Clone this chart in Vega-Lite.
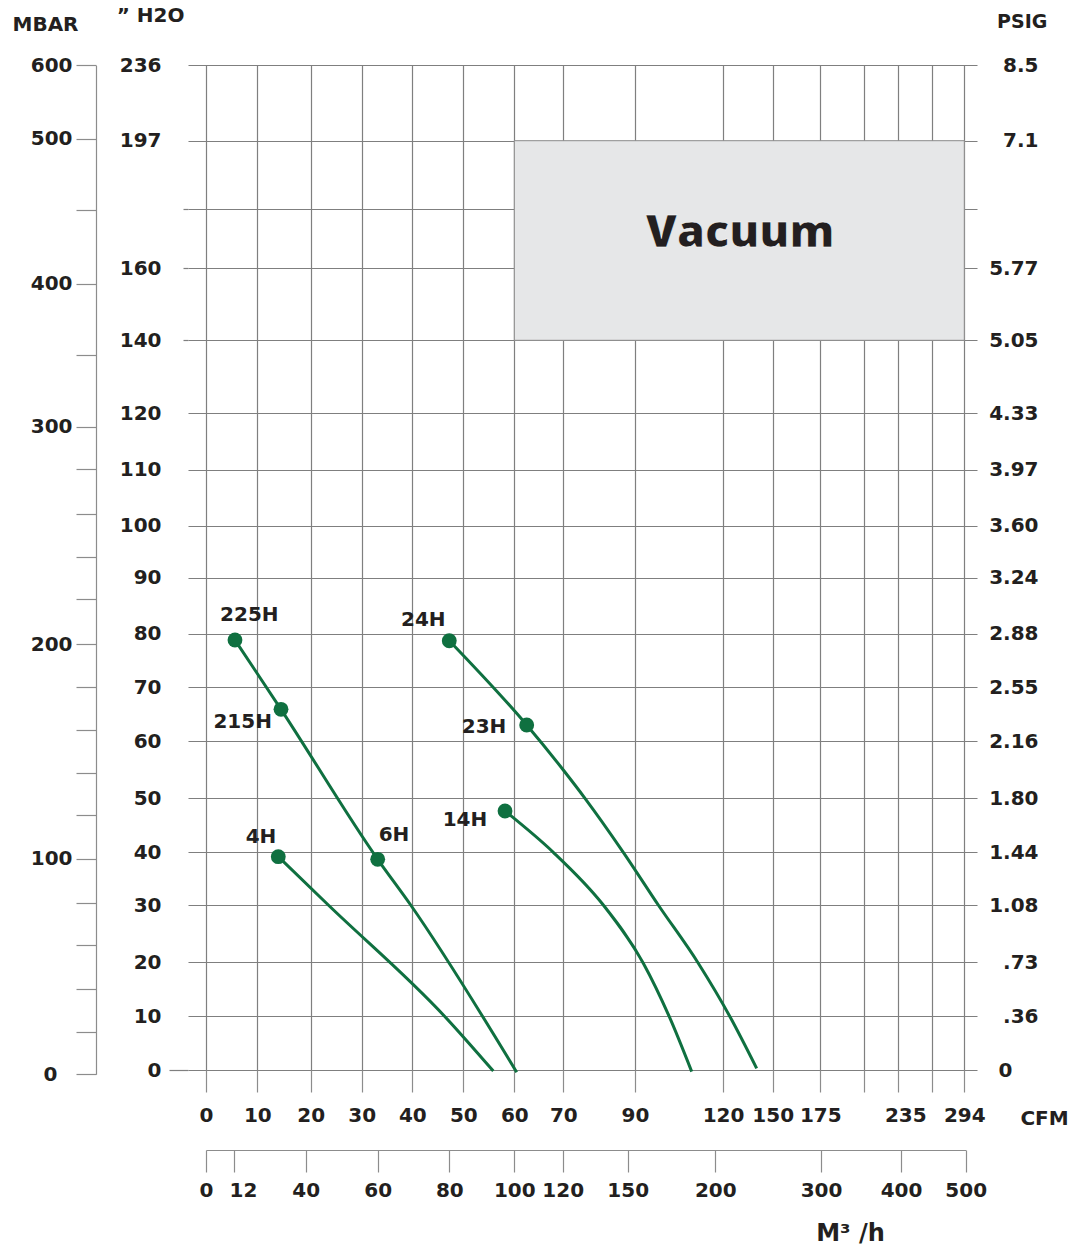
{
  "$schema": "https://vega.github.io/schema/vega-lite/v6.json",
  "width": 789,
  "height": 1005,
  "autosize": {"type": "none"},
  "padding": {"left": 188, "top": 65, "right": 109, "bottom": 179},
  "background": "white",
  "datasets": {
    "box": [{"cfm": 60, "cfm2": 294, "h2o": 197, "h2o2": 140}],
    "curves": [
      {"model": "225H", "i": 1, "cfm": 5.65, "h2o": 78.82},
      {"model": "225H", "i": 2, "cfm": 14.44, "h2o": 65.9},
      {"model": "225H", "i": 3, "cfm": 33.16, "h2o": 38.67},
      {"model": "225H", "i": 4, "cfm": 39.68, "h2o": 30},
      {"model": "225H", "i": 5, "cfm": 60.49, "h2o": -0.4},
      {"model": "4H", "i": 1, "cfm": 13.93, "h2o": 39.17},
      {"model": "4H", "i": 2, "cfm": 23.45, "h2o": 30},
      {"model": "4H", "i": 3, "cfm": 46.41, "h2o": 9.87},
      {"model": "4H", "i": 4, "cfm": 55.88, "h2o": -0.2},
      {"model": "24H", "i": 1, "cfm": 47.25, "h2o": 78.69},
      {"model": "24H", "i": 2, "cfm": 62.53, "h2o": 62.98},
      {"model": "24H", "i": 3, "cfm": 70.0, "h2o": 54.94},
      {"model": "24H", "i": 4, "cfm": 76.05, "h2o": 50},
      {"model": "24H", "i": 5, "cfm": 86.74, "h2o": 40},
      {"model": "24H", "i": 6, "cfm": 97.94, "h2o": 30},
      {"model": "24H", "i": 7, "cfm": 111.58, "h2o": 19.83},
      {"model": "24H", "i": 8, "cfm": 124.23, "h2o": 9.87},
      {"model": "24H", "i": 9, "cfm": 140.34, "h2o": 0.3},
      {"model": "14H", "i": 1, "cfm": 58.18, "h2o": 47.65},
      {"model": "14H", "i": 2, "cfm": 67.96, "h2o": 40},
      {"model": "14H", "i": 3, "cfm": 81.16, "h2o": 30},
      {"model": "14H", "i": 4, "cfm": 92.83, "h2o": 19.83},
      {"model": "14H", "i": 5, "cfm": 101.69, "h2o": 9.87},
      {"model": "14H", "i": 6, "cfm": 109.33, "h2o": -0.3}
    ],
    "dots": [
      {"model": "225H", "cfm": 5.65, "h2o": 78.82},
      {"model": "215H", "cfm": 14.44, "h2o": 65.9},
      {"model": "6H", "cfm": 33.16, "h2o": 38.67},
      {"model": "4H", "cfm": 13.93, "h2o": 39.17},
      {"model": "24H", "cfm": 47.25, "h2o": 78.69},
      {"model": "23H", "cfm": 62.53, "h2o": 62.98},
      {"model": "14H", "cfm": 58.18, "h2o": 47.65}
    ],
    "labels": [
      {"label": "225H", "cfm": 8.44, "h2o": 83.34},
      {"label": "215H", "cfm": 7.15, "h2o": 63.48},
      {"label": "6H", "cfm": 36.38, "h2o": 43.2},
      {"label": "4H", "cfm": 10.69, "h2o": 42.89},
      {"label": "24H", "cfm": 42.16, "h2o": 82.45},
      {"label": "23H", "cfm": 54.06, "h2o": 62.55},
      {"label": "14H", "cfm": 50.33, "h2o": 45.98}
    ],
    "vacuum": [{"label": "Vacuum", "cfm": 130.3, "h2o": 172}],
    "psig": [{"h2o": 0}, {"h2o": 236}],
    "mbar": [{"mbar": 0}, {"mbar": 600}],
    "m3h": [{"m3h": 0}, {"m3h": 500}]
  },
  "layer": [
    {
      "encoding": {
        "x": {
          "field": "cfm", "type": "quantitative",
          "scale": {"type": "linear", "nice": false, "zero": false,
            "domain": [-3.51, 0, 10, 20, 30, 40, 50, 60, 70, 90, 120, 150, 175, 205, 235, 265, 294, 305.5],
            "range": [0, 18, 69.3, 122.7, 173.7, 224.3, 275.3, 326.3, 375.3, 447, 535, 584.7, 632.3, 676.3, 710.3, 744.3, 776.3, 789]},
          "axis": {
            "orient": "bottom", "values": [0, 10, 20, 30, 40, 50, 60, 70, 90, 120, 150, 175, 205, 235, 265, 294],
            "labelExpr": "datum.value == 205 || datum.value == 265 ? '' : datum.label",
            "labelOffset": {"condition": {"test": "datum.value == 235", "value": 7}, "value": 0},
            "grid": true, "domain": false, "ticks": true, "tickSize": 22,
            "labelFontSize": 20, "labelPadding": 13,
            "title": "CFM", "titleX": 856, "titleY": 48, "titleAlign": "center", "titleBaseline": "middle", "titleFontSize": 20
          }
        },
        "y": {
          "field": "h2o", "type": "quantitative",
          "scale": {"type": "linear", "nice": false, "zero": false,
            "domain": [0, 10, 20, 30, 40, 50, 60, 70, 80, 90, 100, 110, 120, 140, 160, 180, 197, 236],
            "range": [1005, 951, 897.3, 840, 787.3, 733.3, 676, 622.3, 568.7, 512.7, 460.7, 404.7, 348.3, 275.3, 203.3, 144.3, 75.7, 0]},
          "axis": {
            "orient": "left", "values": [0, 10, 20, 30, 40, 50, 60, 70, 80, 90, 100, 110, 120, 140, 160, 180, 197, 236],
            "labelExpr": "datum.value == 180 ? '' : datum.label",
            "grid": true, "domain": false, "ticks": true,
            "tickSize": {"condition": {"test": "datum.value == 0", "value": 19}, "value": 5},
            "tickColor": "#7f7f7f",
            "tickOpacity": {"condition": {"test": "datum.value == 0 || (datum.value >= 140 && datum.value <= 180)", "value": 1}, "value": 0},
            "labelFontSize": 20, "labelAlign": "right", "labelBaseline": "middle",
            "labelPadding": {"condition": {"test": "datum.value == 0", "value": 8}, "value": 22},
            "title": "\u201d H2O", "titleX": -38, "titleY": -49.5, "titleAngle": 0, "titleAlign": "center", "titleBaseline": "middle", "titleFontSize": 20
          }
        }
      },
      "layer": [
        {
          "data": {"name": "box"},
          "mark": {"type": "rect", "fill": "#e6e7e8", "stroke": "#8c8c8c", "strokeWidth": 1},
          "encoding": {"x2": {"field": "cfm2"}, "y2": {"field": "h2o2"}}
        },
        {
          "data": {"name": "curves"},
          "mark": {"type": "line", "color": "#0f7040", "strokeWidth": 3, "interpolate": "monotone"},
          "encoding": {"detail": {"field": "model"}, "order": {"field": "i", "type": "quantitative"}}
        },
        {
          "data": {"name": "dots"},
          "mark": {"type": "point", "filled": true, "color": "#0f7040", "opacity": 1, "size": 220},
          "encoding": {}
        },
        {
          "data": {"name": "labels"},
          "mark": {"type": "text", "font": "DejaVu Sans", "fontWeight": "bold", "fontSize": 20, "color": "#231f20", "align": "center", "baseline": "middle"},
          "encoding": {"text": {"field": "label"}}
        },
        {
          "data": {"name": "vacuum"},
          "mark": {"type": "text", "font": "Open Sans", "fontSize": 45, "fontWeight": 800, "color": "#231f20", "align": "center", "baseline": "middle", "stroke": "white", "strokeWidth": 0.6},
          "encoding": {"text": {"field": "label"}}
        }
      ]
    },
    {
      "data": {"name": "psig"},
      "mark": {"type": "point", "opacity": 0},
      "encoding": {
        "y": {
          "field": "h2o", "type": "quantitative",
          "scale": {"type": "linear", "nice": false, "zero": false,
            "domain": [0, 10, 20, 30, 40, 50, 60, 70, 80, 90, 100, 110, 120, 140, 160, 180, 197, 236],
            "range": [1005, 951, 897.3, 840, 787.3, 733.3, 676, 622.3, 568.7, 512.7, 460.7, 404.7, 348.3, 275.3, 203.3, 144.3, 75.7, 0]},
          "axis": {
            "orient": "right", "values": [0, 10, 20, 30, 40, 50, 60, 70, 80, 90, 100, 110, 120, 140, 160, 197, 236],
            "labelExpr": "['0','.36','.73','1.08','1.44','1.80','2.16','2.55','2.88','3.24','3.60','3.97','4.33','5.05','5.77','7.1','8.5'][indexof([0,10,20,30,40,50,60,70,80,90,100,110,120,140,160,197,236], datum.value)]",
            "grid": false, "domain": false, "ticks": false,
            "labelFontSize": 20, "labelAlign": "right", "labelBaseline": "middle",
            "labelPadding": {"condition": {"test": "datum.value == 0", "value": 35}, "value": 61},
            "title": "PSIG", "titleX": 44.7, "titleY": -43.5, "titleAngle": 0, "titleAlign": "center", "titleBaseline": "middle", "titleFontSize": 19
          }
        }
      }
    },
    {
      "data": {"name": "mbar"},
      "mark": {"type": "point", "opacity": 0},
      "encoding": {
        "y": {
          "field": "mbar", "type": "quantitative",
          "scale": {"type": "linear", "nice": false, "zero": false,
            "domain": [0, 20, 40, 60, 80, 100, 120, 140, 160, 180, 200, 220, 240, 260, 280, 300, 350, 400, 450, 500, 600],
            "range": [1009.3, 967.3, 924.3, 880.3, 838.3, 793.7, 750, 708.3, 665, 622.3, 579, 534.3, 491.7, 448.7, 404.3, 361.7, 290, 218.7, 144.7, 73.7, 0.3]},
          "axis": {
            "orient": "left", "offset": 92,
            "values": [0, 20, 40, 60, 80, 100, 120, 140, 160, 180, 200, 220, 240, 260, 280, 300, 350, 400, 450, 500, 600],
            "labelExpr": "datum.value % 100 == 0 ? datum.label : ''",
            "grid": false, "domain": true, "ticks": true, "tickSize": 20,
            "labelFontSize": 20, "labelAlign": "right", "labelBaseline": "middle",
            "labelPadding": {"condition": {"test": "datum.value == 0", "value": 19}, "value": 4},
            "title": "MBAR", "titleX": -51, "titleY": -40.5, "titleAngle": 0, "titleAlign": "center", "titleBaseline": "middle", "titleFontSize": 20
          }
        }
      }
    },
    {
      "data": {"name": "m3h"},
      "mark": {"type": "point", "opacity": 0},
      "encoding": {
        "x": {
          "field": "m3h", "type": "quantitative",
          "scale": {"type": "linear", "nice": false, "zero": false,
            "domain": [0, 12, 40, 60, 80, 100, 120, 150, 200, 300, 400, 500],
            "range": [18, 46, 117.7, 189.7, 261.3, 326.3, 374.7, 439.7, 527.3, 633, 713, 777.7]},
          "axis": {
            "orient": "bottom", "offset": 80,
            "values": [0, 12, 40, 60, 80, 100, 120, 150, 200, 300, 400, 500],
            "labelOffset": {"condition": {"test": "datum.value == 12", "value": 9}, "value": 0},
            "grid": false, "domain": true, "ticks": true, "tickSize": 22,
            "labelFontSize": 20, "labelPadding": 8,
            "title": "M\u00b3 /h", "titleX": 662, "titleY": 83, "titleAlign": "center", "titleBaseline": "middle", "titleFontSize": 24
          }
        }
      }
    }
  ],
  "resolve": {
    "scale": {"x": "independent", "y": "independent"},
    "axis": {"x": "independent", "y": "independent"}
  },
  "config": {
    "view": {"stroke": null},
    "axis": {
      "labelFont": "DejaVu Sans", "labelFontWeight": "bold", "labelColor": "#231f20",
      "titleFont": "DejaVu Sans", "titleFontWeight": "bold", "titleColor": "#231f20",
      "labelOverlap": false, "labelFlush": false,
      "gridColor": "#7f7f7f", "gridWidth": 1.2, "gridOpacity": 1,
      "tickColor": "#8c8c8c", "tickWidth": 1.2, "domainColor": "#8c8c8c", "domainWidth": 1.2
    },
    "text": {"font": "DejaVu Sans", "fontWeight": "bold"}
  }
}
